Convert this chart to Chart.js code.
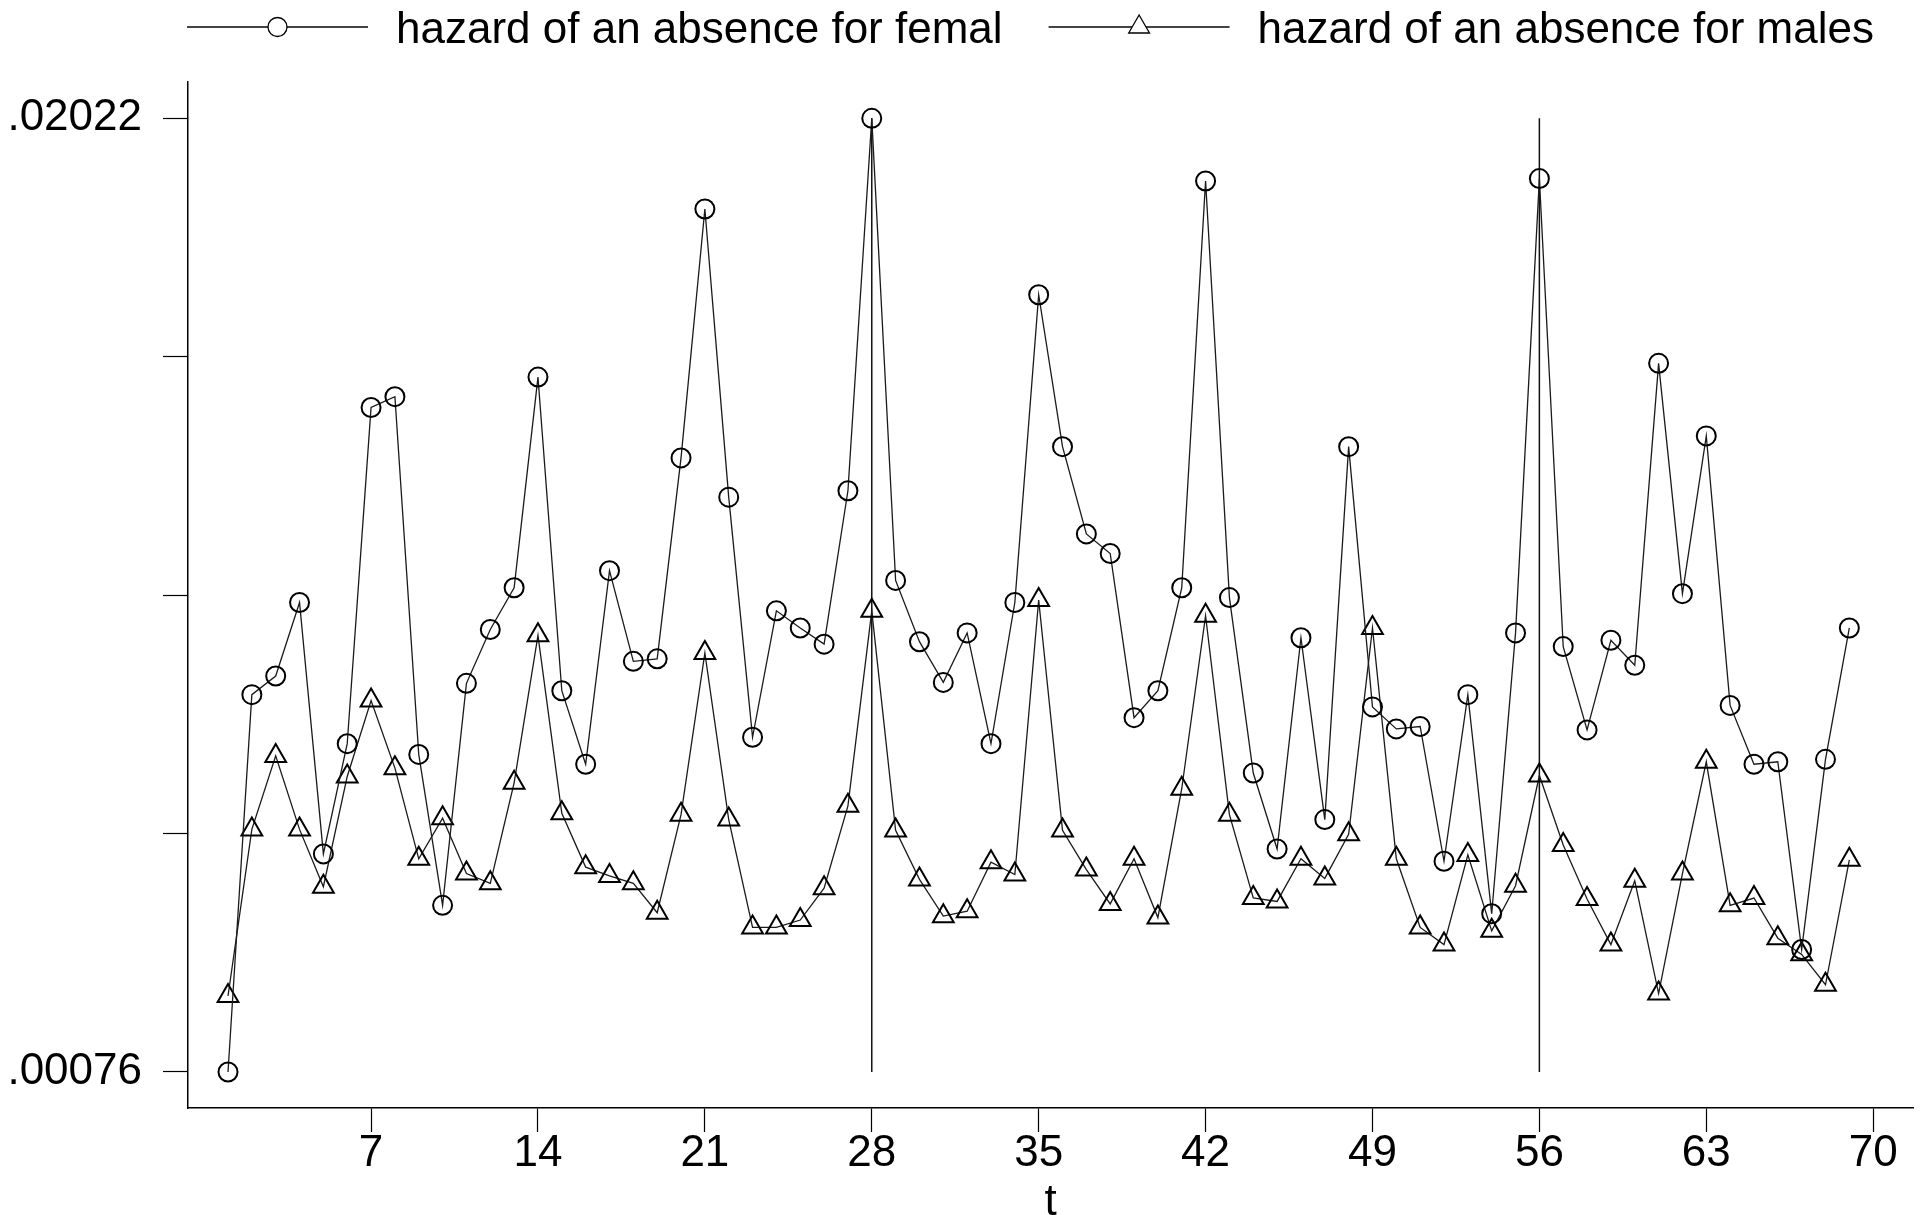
<!DOCTYPE html>
<html>
<head>
<meta charset="utf-8">
<script src="https://cdn.jsdelivr.net/npm/chart.js@4.4.1/dist/chart.umd.min.js"></script>
<style>
html,body{margin:0;padding:0;background:#fff;}
#wrap{width:1921px;height:1215px;position:relative;}
</style>
</head>
<body>
<div id="wrap"><canvas id="c"></canvas></div>
<script>
const tValues = [1,2,3,4,5,6,7,8,9,10,11,12,13,14,15,16,17,18,19,20,21,22,23,24,25,26,27,28,29,30,31,32,33,34,35,36,37,38,39,40,41,42,43,44,45,46,47,48,49,50,51,52,53,54,55,56,57,58,59,60,61,62,63,64,65,66,67,68,69];
const femaleHazard = [0.00076,0.00846,0.00884,0.01034,0.00521,0.00746,0.01432,0.01454,0.00724,0.00416,0.00869,0.00979,0.01064,0.01494,0.00854,0.00704,0.01099,0.00914,0.00919,0.01329,0.01837,0.01249,0.00759,0.01017,0.00982,0.00949,0.01262,0.02022,0.01079,0.00954,0.00871,0.00972,0.00746,0.01034,0.01662,0.01352,0.01174,0.01134,0.00799,0.00854,0.01064,0.01894,0.01044,0.00686,0.00531,0.00962,0.00591,0.01352,0.00821,0.00776,0.00781,0.00506,0.00846,0.00399,0.00972,0.01899,0.00944,0.00774,0.00957,0.00906,0.01522,0.01052,0.01374,0.00824,0.00704,0.00709,0.00326,0.00714,0.00982];
const maleHazard = [0.00231,0.00571,0.00721,0.00571,0.00454,0.00679,0.00834,0.00696,0.00511,0.00594,0.00481,0.00461,0.00666,0.00967,0.00604,0.00494,0.00476,0.00461,0.00401,0.00601,0.00931,0.00591,0.00371,0.00371,0.00386,0.00451,0.00619,0.01017,0.00569,0.00469,0.00394,0.00404,0.00504,0.00479,0.01039,0.00569,0.00489,0.00419,0.00511,0.00391,0.00654,0.01007,0.00601,0.00431,0.00424,0.00511,0.00471,0.00561,0.00982,0.00511,0.00371,0.00336,0.00519,0.00364,0.00456,0.00681,0.00539,0.00429,0.00336,0.00466,0.00236,0.00481,0.00709,0.00416,0.00431,0.00349,0.00316,0.00254,0.00509];
const xTickValues = [7,14,21,28,35,42,49,56,63,70];
const xTickLabels = ['7','14','21','28','35','42','49','56','63','70'];
const yTickValues = [0.00076,0.005625,0.01049,0.015355,0.02022];
const yTickLabels = ['.00076','','','','.02022'];
const refLineT = [28,56];
const seriesLabels = ['hazard of an absence for femal','hazard of an absence for males'];
const xTitle = 't';

const FONT = '"Liberation Sans", Arial, Helvetica, sans-serif';
const INK = '#000';

const toPoints = (xs, ys) => xs.map((x, i) => ({x: x, y: ys[i]}));

const datasets = [
  {
    label: seriesLabels[0],
    data: toPoints(tValues, femaleHazard),
    borderColor: '#1a1a1a', borderWidth: 1.3,
    pointStyle: 'circle', pointRadius: 9.5,
    pointBorderWidth: 2, pointBorderColor: INK,
    pointBackgroundColor: 'rgba(0,0,0,0)',
    showLine: true, tension: 0, legendMarker: 'circle'
  },
  {
    label: seriesLabels[1],
    data: toPoints(tValues, maleHazard),
    borderColor: '#1a1a1a', borderWidth: 1.3,
    pointStyle: 'triangle', pointRadius: 12,
    pointBorderWidth: 2, pointBorderColor: INK,
    pointBackgroundColor: 'rgba(0,0,0,0)',
    showLine: true, tension: 0, legendMarker: 'triangle'
  }
];
refLineT.forEach(tv => {
  datasets.push({
    label: '',
    data: [{x: tv, y: yTickValues[0]}, {x: tv, y: yTickValues[yTickValues.length - 1]}],
    borderColor: '#111', borderWidth: 1.5, pointRadius: 0, showLine: true, tension: 0,
    isRefLine: true
  });
});

const legendPlugin = {
  id: 'stataLegend',
  afterDraw(chart) {
    const ctx = chart.ctx;
    const area = chart.chartArea;
    ctx.save();
    ctx.font = '44px ' + FONT;
    ctx.textBaseline = 'alphabetic';
    ctx.textAlign = 'left';
    let x = area.left - 1;
    const lineY = 27, baseY = 43, lineLen = 181, gap1 = 28, gap2 = 46;
    chart.data.datasets.filter(d => !d.isRefLine).forEach(ds => {
      ctx.strokeStyle = '#444';
      ctx.lineWidth = 2;
      ctx.beginPath(); ctx.moveTo(x, lineY); ctx.lineTo(x + lineLen, lineY); ctx.stroke();
      const cx = x + lineLen / 2;
      ctx.strokeStyle = INK; ctx.lineWidth = 1.3;
      ctx.beginPath();
      if (ds.legendMarker === 'circle') {
        ctx.arc(cx, lineY, 9.5, 0, Math.PI * 2);
      } else {
        const r = 12;
        ctx.moveTo(cx, lineY - r);
        ctx.lineTo(cx + r * Math.sin(2 * Math.PI / 3), lineY - r * Math.cos(2 * Math.PI / 3));
        ctx.lineTo(cx + r * Math.sin(4 * Math.PI / 3), lineY - r * Math.cos(4 * Math.PI / 3));
        ctx.closePath();
      }
      ctx.fillStyle = '#fff'; ctx.fill(); ctx.stroke();
      ctx.fillStyle = INK;
      const tx = x + lineLen + gap1;
      ctx.fillText(ds.label, tx, baseY);
      x = tx + ctx.measureText(ds.label).width + gap2;
    });
    ctx.restore();
  }
};

new Chart(document.getElementById('c'), {
  type: 'scatter',
  data: { datasets: datasets },
  plugins: [legendPlugin],
  options: {
    responsive: true,
    maintainAspectRatio: false,
    animation: false,
    devicePixelRatio: 1,
    layout: { autoPadding: false, padding: { top: 82, right: 8, left: 0, bottom: 0 } },
    plugins: { legend: { display: false }, tooltip: { enabled: false } },
    scales: {
      x: {
        type: 'linear', min: -0.678, max: 71.67,
        afterBuildTicks: s => { s.ticks = xTickValues.map(v => ({value: v})); },
        afterFit: s => { s.height = 107; s.paddingLeft = 0; s.paddingRight = 0; },
        ticks: {
          autoSkip: false, maxRotation: 0, color: INK, padding: 0,
          font: { family: FONT, size: 44, lineHeight: 1 },
          callback: (v, i) => xTickLabels[i]
        },
        grid: { drawOnChartArea: false, drawTicks: true, tickLength: 24, tickColor: INK, tickWidth: 1.2 },
        border: { display: true, color: INK, width: 1.5 },
        title: { display: true, text: xTitle, color: INK, padding: 0, font: { family: FONT, size: 44, lineHeight: 0.55 } }
      },
      y: {
        type: 'linear', min: 0.000025, max: 0.020961,
        afterBuildTicks: s => { s.ticks = yTickValues.map(v => ({value: v})); },
        afterFit: s => { s.width = 188; s.paddingTop = 0; s.paddingBottom = 0; },
        ticks: {
          autoSkip: false, color: INK, padding: 21,
          font: { family: FONT, size: 44, lineHeight: 1 },
          callback: (v, i) => yTickLabels[i]
        },
        grid: { drawOnChartArea: false, drawTicks: true, tickLength: 25, tickColor: INK, tickWidth: 1.2 },
        border: { display: true, color: INK, width: 1.5 }
      }
    }
  }
});
</script>
</body>
</html>
